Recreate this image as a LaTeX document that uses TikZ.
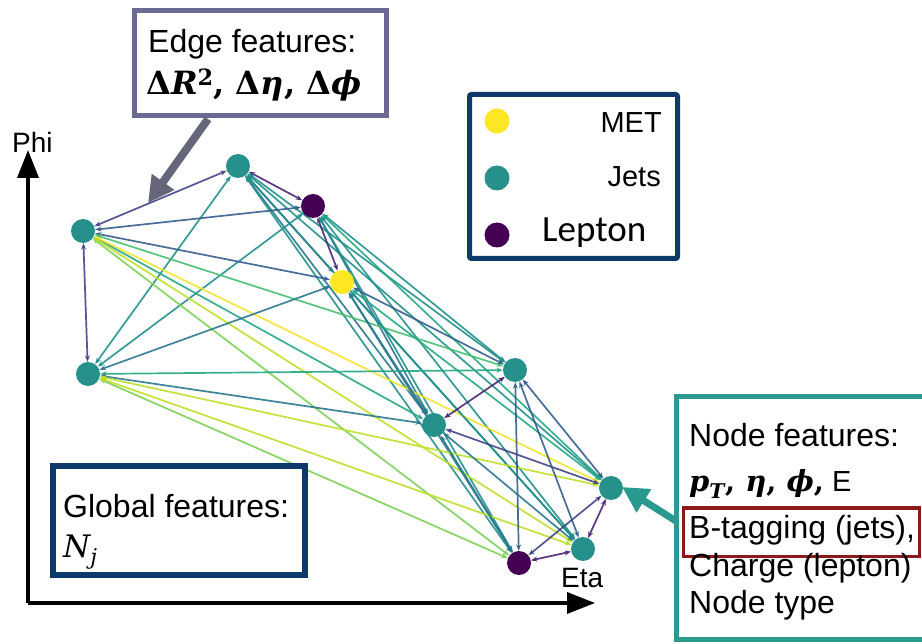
\documentclass[tikz,border=0pt]{standalone}
\usepackage{fontspec}
\setmainfont{Liberation Sans}
\newfontfamily\calibfont{Carlito}
\newfontfamily\symserif{DejaVu Serif}
\usetikzlibrary{arrows.meta}
\pgfdeclarelayer{background}
\pgfsetlayers{background,main}

% node colours
\definecolor{jetc}{HTML}{26908A}
\definecolor{metc}{HTML}{FDE725}
\definecolor{lepc}{HTML}{440154}
% viridis steps for the edges
\definecolor{vir1}{HTML}{482475}
\definecolor{vir2}{HTML}{414487}
\definecolor{vir3}{HTML}{355F8D}
\definecolor{vir4}{HTML}{2A788E}
\definecolor{vir5}{HTML}{21918C}
\definecolor{vir6}{HTML}{22A884}
\definecolor{vir7}{HTML}{44BF70}
\definecolor{vir8}{HTML}{7AD151}
\definecolor{vir9}{HTML}{BDDF26}
\definecolor{vir10}{HTML}{F0E52A}
% frames
\definecolor{navy}{HTML}{0E3A6B}
\definecolor{slate}{HTML}{6A6A92}
\definecolor{pointer}{HTML}{66667A}
\definecolor{tealframe}{HTML}{2A9A8E}
\definecolor{redmark}{HTML}{8B1A1A}

% italic symbol letters in the serif face
\newcommand\sym[1]{{\itshape #1}}

\tikzset{
  vtx/.style={circle, minimum size=24pt, inner sep=0pt},
  jet/.style={vtx, fill=jetc},
  met/.style={vtx, fill=metc},
  lep/.style={vtx, fill=lepc},
  link/.style={line width=1.7pt, opacity=0.9,
    {Stealth[length=6.5pt,width=5pt]}-{Stealth[length=6.5pt,width=5pt]}},
  ev1/.style={link, draw=vir1}, ev2/.style={link, draw=vir2},
  ev3/.style={link, draw=vir3}, ev4/.style={link, draw=vir4},
  ev5/.style={link, draw=vir5}, ev6/.style={link, draw=vir6},
  ev7/.style={link, draw=vir7}, ev8/.style={link, draw=vir8},
  ev9/.style={link, draw=vir9}, ev10/.style={link, draw=vir10},
  lbl/.style={inner sep=0pt, anchor=base west},
  bigtxt/.style={font=\fontsize{32}{37}\selectfont},
  axisline/.style={line width=3.5pt, -{Triangle[length=28pt,width=21pt]}},
  callout/.style={-{Triangle[length=26pt,width=26pt]}},
}

\begin{document}
\begin{tikzpicture}[x=1pt,y=-1pt]
\useasboundingbox (0,0) rectangle (922,644);
\clip (0,0) rectangle (922,644);

% graph vertices
\node[jet] (A) at (238,166) {};
\node[lep] (B) at (313,206) {};
\node[jet] (C) at (83,231) {};
\node[met] (D) at (342,282) {};
\node[jet] (E) at (88,374) {};
\node[jet] (F) at (515,370) {};
\node[jet] (G) at (434,425) {};
\node[jet] (H) at (611,488) {};
\node[lep] (I) at (519,563) {};
\node[jet] (K) at (583,549) {};

% white page and graph edges, coloured by separation, below the vertices
\begin{pgfonlayer}{background}
\fill[white] (0,0) rectangle (922,644);
\draw[ev1] (A) -- (B);
\draw[ev2] (A) -- (C);
\draw[ev3] (A) -- (D);
\draw[ev5] (A) -- (E);
\draw[ev5] (A) -- (F);
\draw[ev4] (A) -- (G);
\draw[ev5] (A) -- (H);
\draw[ev5] (A) -- (I);
\draw[ev5] (A) -- (K);
\draw[ev3] (B) -- (C);
\draw[ev1] (B) -- (D);
\draw[ev5] (B) -- (E);
\draw[ev5] (B) -- (F);
\draw[ev4] (B) -- (G);
\draw[ev6] (B) -- (H);
\draw[ev5] (B) -- (I);
\draw[ev5] (B) -- (K);
\draw[ev3] (C) -- (D);
\draw[ev2] (C) -- (E);
\draw[ev7] (C) -- (F);
\draw[ev6] (C) -- (G);
\draw[ev10] (C) -- (H);
\draw[ev8] (C) -- (I);
\draw[ev9] (C) -- (K);
\draw[ev4] (D) -- (E);
\draw[ev3] (D) -- (F);
\draw[ev4] (D) -- (G);
\draw[ev6] (D) -- (H);
\draw[ev4] (D) -- (I);
\draw[ev5] (D) -- (K);
\draw[ev6] (E) -- (F);
\draw[ev4] (E) -- (G);
\draw[ev9] (E) -- (H);
\draw[ev8] (E) -- (I);
\draw[ev9] (E) -- (K);
\draw[ev1] (F) -- (G);
\draw[ev3] (F) -- (H);
\draw[ev3] (F) -- (I);
\draw[ev3] (F) -- (K);
\draw[ev2] (G) -- (H);
\draw[ev4] (G) -- (I);
\draw[ev4] (G) -- (K);
\draw[ev2] (H) -- (I);
\draw[ev1] (H) -- (K);
\draw[ev1] (I) -- (K);
\end{pgfonlayer}

% axes
\coordinate (O) at (28,603);
\coordinate (ytop) at (28,150);
\coordinate (xend) at (595,603);
\draw[axisline] (O) -- (ytop);
\draw[axisline] (O) -- (xend);
\node[lbl, font=\fontsize{28}{32}\selectfont] (phi) at (12,153) {Phi};
\node[lbl, font=\fontsize{28}{32}\selectfont] (eta) at (561,587) {Eta};

% edge feature box
\draw[slate, line width=5pt, fill=white] (134.5,10.5) rectangle (386.5,115.5);
\node[lbl, bigtxt] (edgehead) at (148,53) {Edge features:};
\node[lbl, font=\symserif\bfseries\fontsize{32}{37}\selectfont] (edgemath) at (146,95) {Δ\sym{R}\textsuperscript{2}, Δ\sym{η}, Δ\sym{ϕ}};
\coordinate (edgefrom) at (208,119);
\coordinate (edgeto) at (148,203);
\draw[callout, pointer, line width=8pt] (edgefrom) -- (edgeto);

% legend
\draw[navy, line width=5pt, rounded corners=2pt, fill=white] (469.5,94.5) rectangle (677.5,258.5);
\node[met, minimum size=25pt] (legmet) at (497,121) {};
\node[jet, minimum size=25pt] (legjet) at (497,178) {};
\node[lep, minimum size=25pt] (leglep) at (497,235) {};
\node[inner sep=0pt, anchor=base east, font=\fontsize{29}{33}\selectfont] (tmet) at (662,133) {MET};
\node[inner sep=0pt, anchor=base east, font=\fontsize{29}{33}\selectfont] (tjet) at (661,187) {Jets};
\node[lbl, font=\calibfont\fontsize{37}{40}\selectfont] (tlep) at (542,242) {Lepton};

% global feature box
\draw[navy, line width=6pt, fill=white] (53,466) rectangle (305,575);
\node[lbl, bigtxt] (globhead) at (63,518) {Global features:};
\node[lbl, font=\symserif\fontsize{31}{36}\selectfont] (globmath) at (63,557) {\sym{N}\textsubscript{\sym{j}}};

% node feature box
\draw[tealframe, line width=5pt, fill=white] (676.5,396.5) rectangle (935,639.5);
\node[lbl, bigtxt] (nodehead) at (689,447) {Node features:};
\node[lbl, font=\fontsize{29}{34}\selectfont] (nodemath) at (689,492) {{\symserif\bfseries\sym{p}\textsubscript{\sym{T}}, \sym{η}, \sym{ϕ},} E};
\draw[redmark, line width=3pt] (683,508) rectangle (919,556);
\node[lbl, bigtxt] (btag) at (689,538) {B-tagging (jets),};
\node[lbl, bigtxt] (charge) at (689,576) {Charge (lepton)};
\node[lbl, bigtxt] (ntype) at (689,613) {Node type};
\coordinate (nodefrom) at (676,521);
\coordinate (nodeto) at (622,487);
\draw[callout, tealframe, line width=7pt] (nodefrom) -- (nodeto);
\end{tikzpicture}
\end{document}
